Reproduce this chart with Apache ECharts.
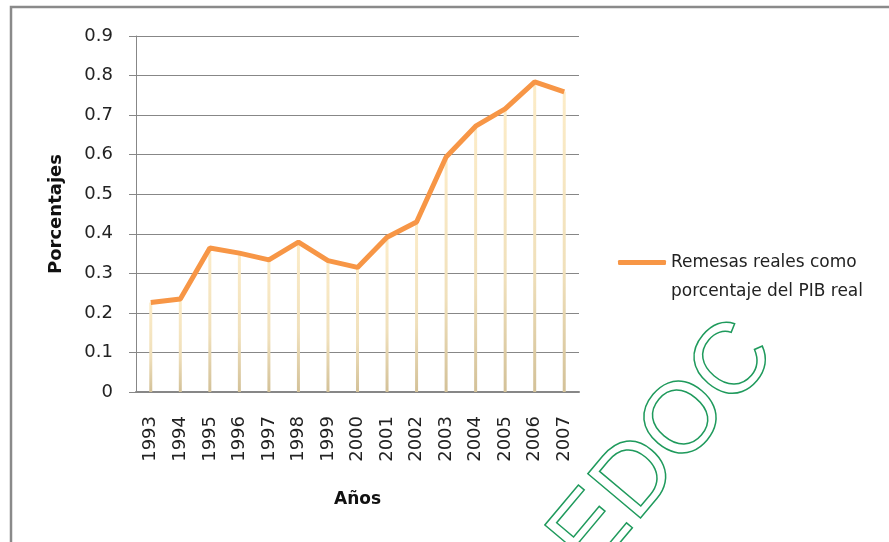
<!DOCTYPE html>
<html>
<head>
<meta charset="utf-8">
<script src="https://cdn.jsdelivr.net/npm/echarts@6/dist/echarts.min.js"></script>
<style>
  html, body { margin: 0; padding: 0; background: #fff; }
  #chart { width: 889px; height: 542px; }
</style>
</head>
<body>
<div id="chart"></div>
<script>
// years on the x axis
const years = ['1993', '1994', '1995', '1996', '1997', '1998', '1999', '2000',
  '2001', '2002', '2003', '2004', '2005', '2006', '2007']
// remesas reales como % del PIB real
const remesas = [0.226, 0.235, 0.364, 0.351, 0.334, 0.379, 0.332, 0.315,
  0.391, 0.430, 0.594, 0.672, 0.716, 0.784, 0.759]
const seriesName = 'Remesas reales como porcentaje del PIB real'
const yMin = 0
const yMax = 0.9
const yStep = 0.1

const chart = echarts.init(document.getElementById('chart'))
const gray = '#878787'
const font = 'DejaVu Sans'

chart.setOption({
  animation: false,
  backgroundColor: '#fff',
  grid: { left: 136, right: 310, top: 36, bottom: 150 },
  legend: {
    data: [seriesName],
    left: 613,
    top: 214,
    icon: 'roundRect',
    itemWidth: 48,
    itemHeight: 5,
    // empty first line so the icon sits level with the first real line
    formatter: function () {
      return '\nRemesas reales como\nporcentaje del PIB real'
    },
    textStyle: {
      fontFamily: font,
      fontSize: 17,
      color: '#222',
      lineHeight: 29
    }
  },
  xAxis: {
    type: 'category',
    data: years,
    boundaryGap: true,
    name: 'Años',
    nameLocation: 'middle',
    nameGap: 99,
    nameTextStyle: { fontFamily: font, fontSize: 17, fontWeight: 'bold', color: '#111' },
    axisLine: { lineStyle: { color: gray, width: 2 } },
    axisTick: { show: false },
    axisLabel: {
      rotate: 90,
      margin: 24,
      fontFamily: font,
      fontSize: 18,
      color: '#222'
    }
  },
  yAxis: {
    type: 'value',
    min: yMin,
    max: yMax,
    interval: yStep,
    name: 'Porcentajes',
    nameLocation: 'middle',
    nameGap: 71,
    nameTextStyle: { fontFamily: font, fontSize: 18, fontWeight: 'bold', color: '#111' },
    axisLine: { show: true, lineStyle: { color: gray } },
    axisTick: { show: true, length: 7, lineStyle: { color: gray } },
    splitLine: { lineStyle: { color: gray } },
    axisLabel: {
      margin: 23,
      fontFamily: font,
      fontSize: 18,
      color: '#222',
      formatter: function (v) {
        return +v.toFixed(1) + ''
      }
    }
  },
  graphic: [
    {
      type: 'rect',
      shape: { x: 11, y: 7, width: 900, height: 560 },
      style: { fill: 'none', stroke: '#8a8a8a', lineWidth: 2.5 },
      silent: true
    },
    {
      type: 'text',
      x: 664,
      y: 447,
      rotation: 50 * Math.PI / 180,
      z: 100,
      style: {
        text: 'EDOC',
        font: '100px "Liberation Sans"',
        textAlign: 'center',
        textVerticalAlign: 'middle',
        fill: 'none',
        stroke: '#1f9a5c',
        lineWidth: 1.5
      },
      silent: true
    }
  ],
  series: [
    {
      // drop lines under each point
      name: 'drop',
      type: 'bar',
      barWidth: 3,
      data: remesas,
      z: 1,
      itemStyle: {
        color: new echarts.graphic.LinearGradient(0, 0, 0, 1, [
          { offset: 0, color: '#fcecc8' },
          { offset: 0.6, color: '#f0e0bb' },
          { offset: 1, color: '#d3c198' }
        ])
      }
    },
    {
      name: seriesName,
      type: 'line',
      data: remesas,
      z: 3,
      symbol: 'none',
      lineStyle: { color: '#f79646', width: 5 },
      itemStyle: { color: '#f79646' }
    }
  ]
})
</script>
</body>
</html>
